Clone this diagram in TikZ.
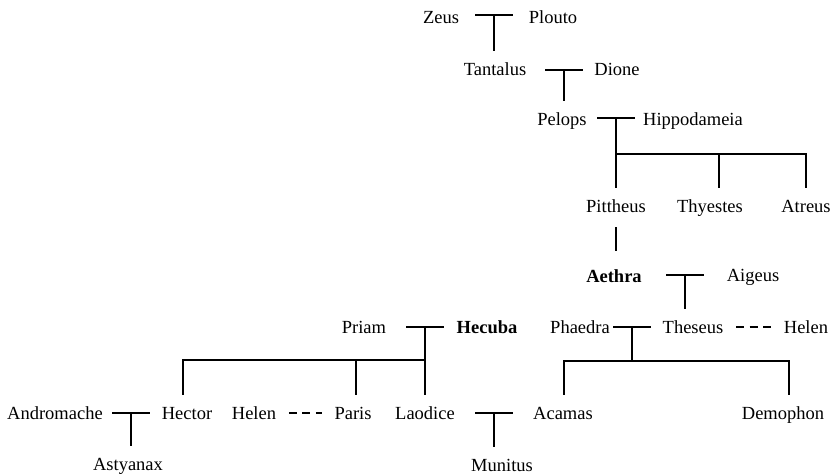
\documentclass[tikz,border=0pt]{standalone}
\usepackage{fontspec}
\setmainfont{Liberation Serif}
\begin{document}
\begin{tikzpicture}[x=1pt, y=-1pt, line width=1.5pt, nameStyle/.style={anchor=base, inner xsep=0pt, inner ysep=11pt, text height=12.5pt, text depth=0.5pt, font=\fontsize{18.5}{22}\selectfont}, barStyle/.style={rectangle, minimum width=36pt, minimum height=0pt, inner sep=0pt}, affairStyle/.style={dash pattern=on 8pt off 5.5pt, shorten <=12pt, shorten >=12pt}]
                    \useasboundingbox (0, 0) rectangle (830, 474);

                    \node[nameStyle] (zeus)        at (441,  23) {Zeus};
                    \node[barStyle]  (zeus_m)      at (494,  15) {};
                    \node[nameStyle] (plouto)      at (553,  23) {Plouto};

                    \node[nameStyle] (tantalus)    at (495,  75) {Tantalus};
                    \node[barStyle]  (tantalus_m)  at (564,  70) {};
                    \node[nameStyle] (dione)       at (617,  75) {Dione};

                    \node[nameStyle] (pelops)      at (562, 125) {Pelops};
                    \node[barStyle]  (pelops_m)    at (616, 118) {};
                    \node[nameStyle] (hippodameia) at (693, 125) {Hippodameia};
                    \coordinate      (pelops_k)    at (616, 154);

                    \node[nameStyle] (pittheus)    at (616, 212) {Pittheus};
                    \node[nameStyle] (thyestes)    at (710, 212) {Thyestes};
                    \node[nameStyle] (atreus)      at (806, 212) {Atreus};

                    \node[nameStyle] (aethra)      at (614, 282) {\textbf{Aethra}};
                    \node[barStyle]  (aethra_m)    at (685, 275) {};
                    \node[nameStyle] (aigeus)      at (753, 281) {Aigeus};

                    \node[nameStyle] (priam)       at (364, 333) {Priam};
                    \node[barStyle]  (priam_m)     at (425, 327) {};
                    \node[nameStyle] (hecuba)      at (487, 333) {\textbf{Hecuba}};
                    \coordinate      (priam_k)     at (425, 360);

                    \node[nameStyle] (phaedra)     at (580, 333) {Phaedra};
                    \node[barStyle]  (phaedra_m)   at (632, 327) {};
                    \node[nameStyle] (theseus)     at (693, 333) {Theseus};
                    \node[nameStyle] (helen_T)     at (806, 333) {Helen};
                    \coordinate      (phaedra_k)   at (632, 361);

                    \node[nameStyle] (andromache)  at ( 55, 419) {Andromache};
                    \node[barStyle]  (hector_m)    at (131, 413) {};
                    \node[nameStyle] (hector)      at (187, 419) {Hector};
                    \node[nameStyle] (helen_P)     at (254, 419) {Helen};
                    \node[nameStyle] (paris)       at (353, 419) {Paris};
                    \node[nameStyle] (laodice)     at (425, 419) {Laodice};
                    \node[barStyle]  (laodice_m)   at (494, 413) {};
                    \node[nameStyle] (acamas)      at (563, 419) {Acamas};
                    \node[nameStyle] (demophon)    at (783, 419) {Demophon};

                    \node[nameStyle] (astyanax)    at (128, 470) {Astyanax};
                    \node[nameStyle] (munitus)     at (502, 471) {Munitus};

                    \foreach \m in {zeus_m, tantalus_m, pelops_m, aethra_m, priam_m, phaedra_m, hector_m, laodice_m}
                        \draw (\m.west) -- (\m.east);

                    \draw (zeus_m.south) -- (zeus_m.south |- tantalus.north);
                    \draw (tantalus_m.south) -- (tantalus_m.south |- pelops.north);
                    \draw (pelops_m.south) -- (pelops_k);
                    \draw (pelops_k) -| (pittheus.north);
                    \draw (pelops_k) -| ([xshift=9pt]thyestes.north);
                    \draw (pelops_k) -| (atreus.north);
                    \draw[shorten <=3pt, shorten >=7pt] (pittheus.south) -- (pittheus.south |- aethra.north);
                    \draw (aethra_m.south) -- (aethra_m.south |- theseus.north);

                    \draw (priam_m.south) -- (priam_k);
                    \draw (priam_k) -| ([xshift=-4pt]hector.north);
                    \draw (priam_k) -| ([xshift=3pt]paris.north);
                    \draw (priam_k) -- (laodice.north);

                    \draw (phaedra_m.south) -- (phaedra_k);
                    \draw (phaedra_k) -| ([xshift=1pt]acamas.north);
                    \draw (phaedra_k) -| ([xshift=6pt]demophon.north);

                    \draw (hector_m.south) -- (hector_m.south |- astyanax.north);
                    \draw (laodice_m.south) -- (laodice_m.south |- munitus.north);

                    \draw[affairStyle] (theseus.east) -- (helen_T.west);
                    \draw[affairStyle] (helen_P.east) -- (paris.west);
                \end{tikzpicture}
\end{document}
